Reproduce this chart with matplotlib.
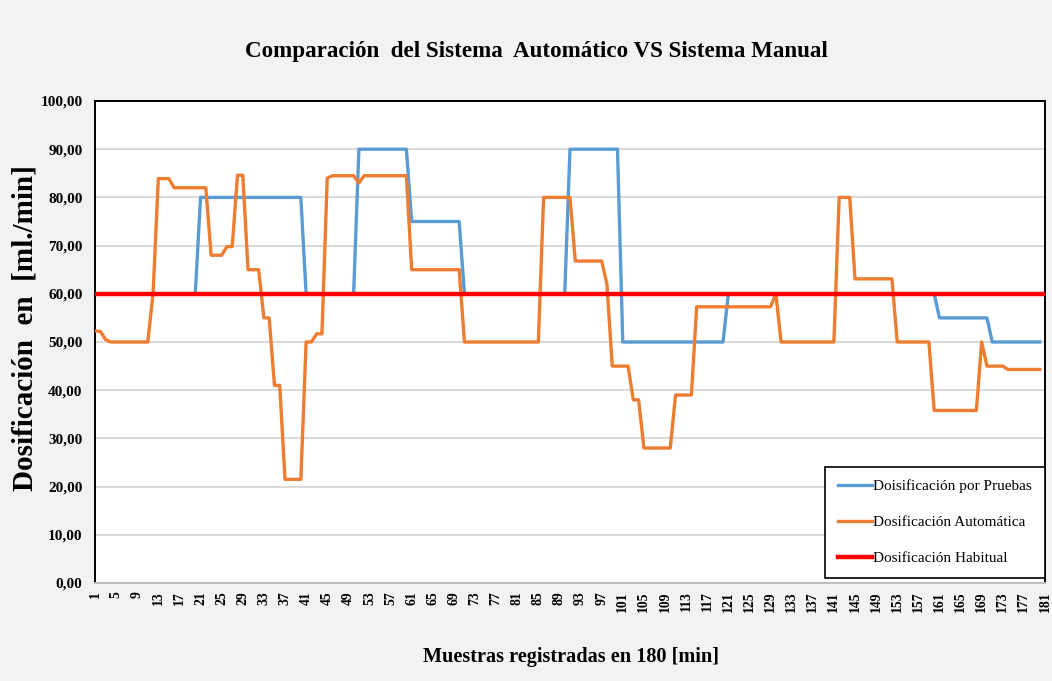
import matplotlib

matplotlib.use("Agg")
import matplotlib.pyplot as plt
from matplotlib.ticker import FuncFormatter

# Dosing per sample (one sample per minute, 180 min)
pruebas = [
    60, 60, 60, 60, 60, 60, 60, 60, 60, 60,
    60, 60, 60, 60, 60, 60, 60, 60, 60, 60,
    80, 80, 80, 80, 80, 80, 80, 80, 80, 80,
    80, 80, 80, 80, 80, 80, 80, 80, 80, 80,
    60, 60, 60, 60, 60, 60, 60, 60, 60, 60,
    90, 90, 90, 90, 90, 90, 90, 90, 90, 90,
    75, 75, 75, 75, 75, 75, 75, 75, 75, 75,
    60, 60, 60, 60, 60, 60, 60, 60, 60, 60,
    60, 60, 60, 60, 60, 60, 60, 60, 60, 60,
    90, 90, 90, 90, 90, 90, 90, 90, 90, 90,
    50, 50, 50, 50, 50, 50, 50, 50, 50, 50,
    50, 50, 50, 50, 50, 50, 50, 50, 50, 50,
    60, 60, 60, 60, 60, 60, 60, 60, 60, 60,
    60, 60, 60, 60, 60, 60, 60, 60, 60, 60,
    60, 60, 60, 60, 60, 60, 60, 60, 60, 60,
    60, 60, 60, 60, 60, 60, 60, 60, 60, 60,
    55, 55, 55, 55, 55, 55, 55, 55, 55, 55,
    50, 50, 50, 50, 50, 50, 50, 50, 50, 50,
]

automatica = [
    52.3, 52.2, 50.5, 50, 50, 50, 50, 50, 50, 50,
    50, 60, 83.9, 83.9, 83.9, 82, 82, 82, 82, 82,
    82, 82, 68, 68, 68, 69.8, 69.8, 84.6, 84.6, 65,
    65, 65, 55, 55, 41, 41, 21.5, 21.5, 21.5, 21.5,
    50, 50, 51.7, 51.7, 84, 84.5, 84.5, 84.5, 84.5, 84.5,
    83, 84.5, 84.5, 84.5, 84.5, 84.5, 84.5, 84.5, 84.5, 84.5,
    65, 65, 65, 65, 65, 65, 65, 65, 65, 65,
    50, 50, 50, 50, 50, 50, 50, 50, 50, 50,
    50, 50, 50, 50, 50, 80, 80, 80, 80, 80,
    80, 66.8, 66.8, 66.8, 66.8, 66.8, 66.8, 62, 45, 45,
    45, 45, 38, 38, 28, 28, 28, 28, 28, 28,
    39, 39, 39, 39, 57.3, 57.3, 57.3, 57.3, 57.3, 57.3,
    57.3, 57.3, 57.3, 57.3, 57.3, 57.3, 57.3, 57.3, 57.3, 60,
    50, 50, 50, 50, 50, 50, 50, 50, 50, 50,
    50, 80, 80, 80, 63.1, 63.1, 63.1, 63.1, 63.1, 63.1,
    63.1, 63.1, 50, 50, 50, 50, 50, 50, 50, 35.8,
    35.8, 35.8, 35.8, 35.8, 35.8, 35.8, 35.8, 35.8, 50, 45,
    45, 45, 45, 44.3, 44.3, 44.3, 44.3, 44.3, 44.3, 44.3,
]

habitual_valor = 60.0
n_habitual = 181

muestras = list(range(1, len(pruebas) + 1))
muestras_hab = list(range(1, n_habitual + 1))
habitual = [habitual_valor] * n_habitual
xticks = list(range(1, n_habitual + 1, 4))

SERIF = "Liberation Serif"
BG = "#f2f2f2"

fig = plt.figure(figsize=(10.52, 6.81), dpi=100, facecolor=BG)
ax = fig.add_axes([95 / 1052, 1 - 583 / 681, 950 / 1052, 482 / 681])
ax.set_facecolor("white")

ax.plot(muestras, pruebas, color="#5b9bd5", lw=2.4,
        label="Doisificación por Pruebas", zorder=3)
ax.plot(muestras, automatica, color="#ed7d31", lw=2.4,
        label="Dosificación Automática", zorder=4)
ax.plot(muestras_hab, habitual, color="#ff0000", lw=3.2,
        label="Dosificación Habitual", zorder=5)

ax.set_xlim(1, 181)
ax.set_ylim(0, 100)
ax.set_yticks(range(0, 101, 10))
ax.yaxis.set_major_formatter(FuncFormatter(lambda v, _: f"{v:.2f}".replace(".", ",")))
ax.set_xticks(xticks)
ax.set_xticklabels([str(t) for t in xticks], rotation=90)
ax.tick_params(length=0)
ax.tick_params(axis="y", pad=9)
ax.tick_params(axis="x", pad=6)
for lbl in ax.get_xticklabels():
    lbl.set_fontfamily(SERIF)
    lbl.set_fontweight("bold")
    lbl.set_fontsize(9.8)
for lbl in ax.get_yticklabels():
    lbl.set_fontfamily(SERIF)
    lbl.set_fontweight("bold")
    lbl.set_fontsize(11)

ax.grid(True, axis="y", color="#d9d9d9", lw=1.4, zorder=0)
ax.set_axisbelow(True)
for side in ("top", "left", "right"):
    ax.spines[side].set_color("black")
    ax.spines[side].set_linewidth(1.4)
ax.spines["bottom"].set_color("#bfbfbf")
ax.spines["bottom"].set_linewidth(1.4)

leg = ax.legend(loc="lower right", bbox_to_anchor=(1.0, 0.01),
                prop={"family": SERIF, "size": 11},
                frameon=True, fancybox=False, framealpha=1,
                edgecolor="black", handlelength=2.2, handletextpad=0.1,
                labelspacing=1.45, borderpad=0.85, borderaxespad=0)
leg.get_frame().set_linewidth(1.2)
leg.set_zorder(10)

fig.text(0.51, 0.924, "Comparación  del Sistema  Automático VS Sistema Manual",
         ha="center", va="center", family=SERIF, weight="bold", fontsize=16.6)
fig.text(0.543, 0.035, "Muestras registradas en 180 [min]",
         ha="center", va="center", family=SERIF, weight="bold", fontsize=14.6)
fig.text(25 / 1052, 0.518, "Dosificación  en  [ml./min]", rotation=90,
         ha="center", va="center", family=SERIF, weight="bold", fontsize=21)

fig.savefig("out.png", dpi=100, facecolor=BG)
plt.close(fig)
